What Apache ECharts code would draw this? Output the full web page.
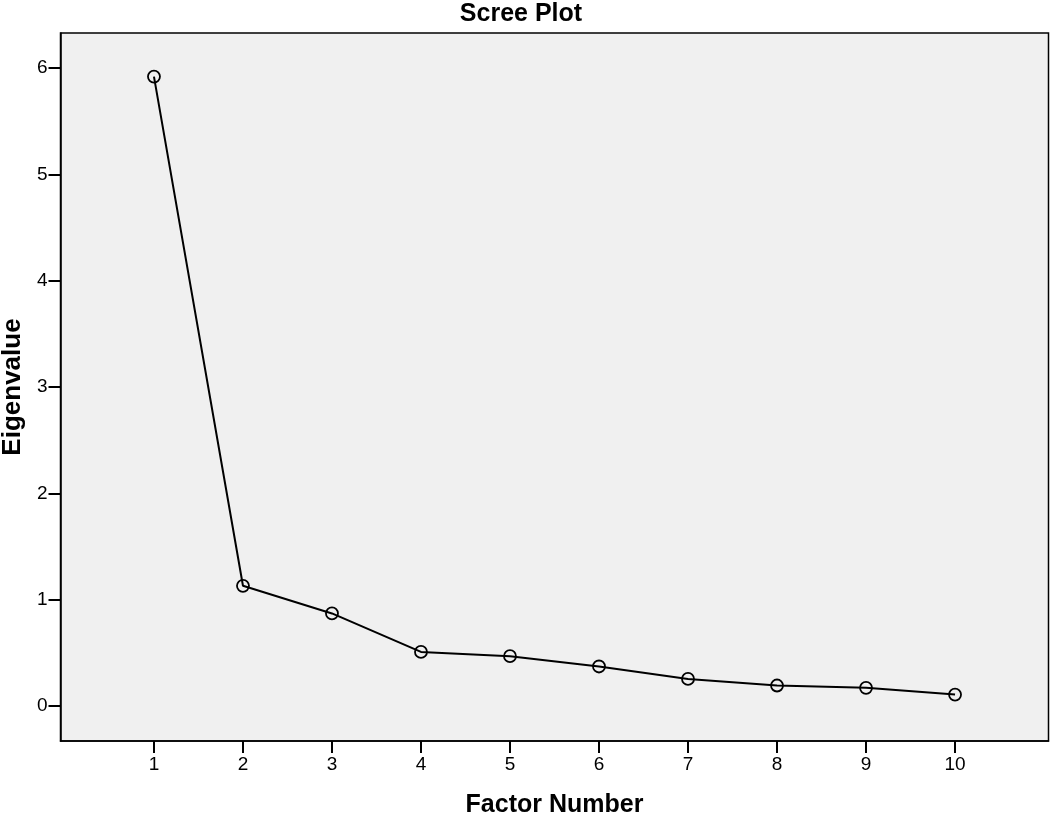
<!DOCTYPE html>
<html>
<head>
<meta charset="utf-8">
<script src="https://cdn.jsdelivr.net/npm/echarts@6/dist/echarts.min.js"></script>
<style>
html,body{margin:0;padding:0;background:#fff;}
#c{width:1050px;height:816px;}
</style>
</head>
<body>
<div id="c"></div>
<script>
const factors = [1, 2, 3, 4, 5, 6, 7, 8, 9, 10];
const eigenvalues = [5.92, 1.13, 0.87, 0.508, 0.468, 0.371, 0.254, 0.192, 0.170, 0.107];
const xTicks = [1, 2, 3, 4, 5, 6, 7, 8, 9, 10];
const yTicks = [0, 1, 2, 3, 4, 5, 6];

const chart = echarts.init(document.getElementById('c'));
const font = 'Liberation Sans, Arial, sans-serif';
chart.setOption({
  animation: false,
  title: {
    text: 'Scree Plot', left: 516, top: -3, textAlign: 'center',
    textStyle: {fontFamily: font, fontWeight: 'bold', fontSize: 25, color: '#000'}
  },
  grid: {left: 60.5, top: 33, right: 1.5, bottom: 75, show: true, backgroundColor: '#f0f0f0', borderColor: '#000', borderWidth: 1.5,
         containLabel: false, outerBoundsMode: 'none'},
  xAxis: {
    type: 'value', min: -0.05, max: 11.05,
    name: 'Factor Number', nameLocation: 'middle', nameGap: 52,
    nameTextStyle: {fontFamily: font, fontWeight: 'bold', fontSize: 25, color: '#000'},
    axisLine: {show: true, onZero: false, lineStyle: {color: '#000', width: 1.5}},
    axisTick: {show: true, length: 12, lineStyle: {color: '#000', width: 2}, customValues: xTicks},
    axisLabel: {fontFamily: font, fontSize: 19, color: '#000', margin: 14, customValues: xTicks},
    splitLine: {show: false}
  },
  yAxis: {
    type: 'value', min: -0.33, max: 6.33,
    name: 'Eigenvalue', nameLocation: 'middle', nameGap: 35, nameRotate: 90,
    nameTextStyle: {fontFamily: font, fontWeight: 'bold', fontSize: 26, color: '#000'},
    axisLine: {show: true, onZero: false, lineStyle: {color: '#000', width: 1.5}},
    axisTick: {show: true, length: 12, lineStyle: {color: '#000', width: 2}, customValues: yTicks},
    axisLabel: {fontFamily: font, fontSize: 19, color: '#000', margin: 13, customValues: yTicks},
    splitLine: {show: false}
  },
  series: [{
    type: 'line',
    data: factors.map((f, i) => [f, eigenvalues[i]]),
    symbol: 'circle', symbolSize: 12,
    lineStyle: {color: '#000', width: 2},
    itemStyle: {color: 'rgba(0,0,0,0)', borderColor: '#000', borderWidth: 1.8}
  }]
});
</script>
</body>
</html>
